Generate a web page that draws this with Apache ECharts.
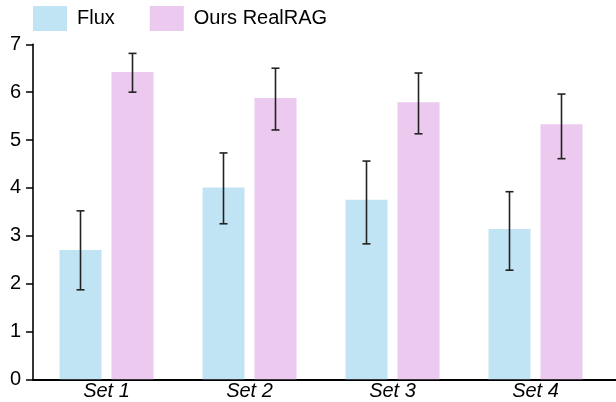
<!DOCTYPE html>
<html><head><meta charset="utf-8">
<script src="https://cdn.jsdelivr.net/npm/echarts@6/dist/echarts.min.js"></script>
<style>html,body{margin:0;padding:0;background:#fff}#c{width:616px;height:402px}</style>
</head><body><div id="c"></div>
<script>
const categories = ['Set 1', 'Set 2', 'Set 3', 'Set 4'];
const seriesNames = ['Flux', 'Ours RealRAG'];
const fluxValues = [2.70, 4.01, 3.75, 3.14];
const fluxLow = [1.87, 3.25, 2.83, 2.28];
const fluxHigh = [3.52, 4.73, 4.56, 3.92];
const oursValues = [6.42, 5.88, 5.79, 5.33];
const oursLow = [6.00, 5.21, 5.13, 4.61];
const oursHigh = [6.81, 6.50, 6.40, 5.96];
const yTicks = [0, 1, 2, 3, 4, 5, 6, 7];

const BAR_W = 42, BAR_GAP = 10, CAP = 8;
const FONT = '"Liberation Sans", Arial, sans-serif';

function errSeries(low, high, side, name) {
  return {
    type: 'custom', xAxisIndex: 0, yAxisIndex: 0, z: 5, name: name + ' err',
    legendHoverLink: false, silent: true,
    data: categories.map((c, i) => [i, low[i], high[i]]),
    renderItem: function (params, api) {
      const off = side * (BAR_W + BAR_GAP) / 2;
      const lo = api.coord([api.value(0), api.value(1)]);
      const hi = api.coord([api.value(0), api.value(2)]);
      const x = lo[0] + off;
      const st = { stroke: '#222', lineWidth: 1.6 };
      return { type: 'group', children: [
        { type: 'line', shape: { x1: x, y1: lo[1], x2: x, y2: hi[1] }, style: st },
        { type: 'line', shape: { x1: x - CAP/2, y1: lo[1], x2: x + CAP/2, y2: lo[1] }, style: st },
        { type: 'line', shape: { x1: x - CAP/2, y1: hi[1], x2: x + CAP/2, y2: hi[1] }, style: st }
      ]};
    }
  };
}

const chart = echarts.init(document.getElementById('c'), null, { renderer: 'canvas' });
chart.setOption({
  animation: false,
  textStyle: { fontFamily: FONT },
  legend: {
    data: seriesNames, left: 33, top: 6, padding: 0, itemWidth: 34, itemHeight: 25, itemGap: 35,
    icon: 'rect', textStyle: { fontSize: 20, color: '#000', fontFamily: FONT, padding: [0, 0, 0, 5] }
  },
  grid: [
    { left: 35, right: 9, top: 44.3, bottom: 22.7 },
    { left: 33, right: 0, top: 44.3, bottom: 22.7 }
  ],
  xAxis: [
    { type: 'category', gridIndex: 0, data: categories, axisLine: { show: false }, axisTick: { show: false },
      axisLabel: { fontSize: 20, fontStyle: 'italic', color: '#000', margin: 2, fontFamily: FONT } },
    { type: 'value', gridIndex: 1, min: 0, max: 1, axisLine: { show: true, lineStyle: { color: '#000', width: 2 } },
      axisTick: { show: false }, axisLabel: { show: false }, splitLine: { show: false } }
  ],
  yAxis: [
    { type: 'value', gridIndex: 0, min: 0, max: 7, interval: 1, show: false },
    { type: 'value', gridIndex: 1, min: yTicks[0], max: yTicks[yTicks.length - 1], interval: 1,
      axisLine: { show: true, lineStyle: { color: '#000', width: 1.6 } },
      axisTick: { show: true, length: 7, lineStyle: { color: '#000', width: 1.5 } },
      axisLabel: { fontSize: 20, color: '#000', margin: 12, fontFamily: FONT },
      splitLine: { show: false } }
  ],
  series: [
    { name: seriesNames[0], type: 'bar', data: fluxValues, barWidth: BAR_W, barGap: (BAR_GAP / BAR_W * 100) + '%',
      itemStyle: { color: '#c1e4f4' }, xAxisIndex: 0, yAxisIndex: 0 },
    { name: seriesNames[1], type: 'bar', data: oursValues, barWidth: BAR_W,
      itemStyle: { color: '#ecc9ef' }, xAxisIndex: 0, yAxisIndex: 0 },
    errSeries(fluxLow, fluxHigh, -1, seriesNames[0]),
    errSeries(oursLow, oursHigh, 1, seriesNames[1])
  ]
});
</script></body></html>
